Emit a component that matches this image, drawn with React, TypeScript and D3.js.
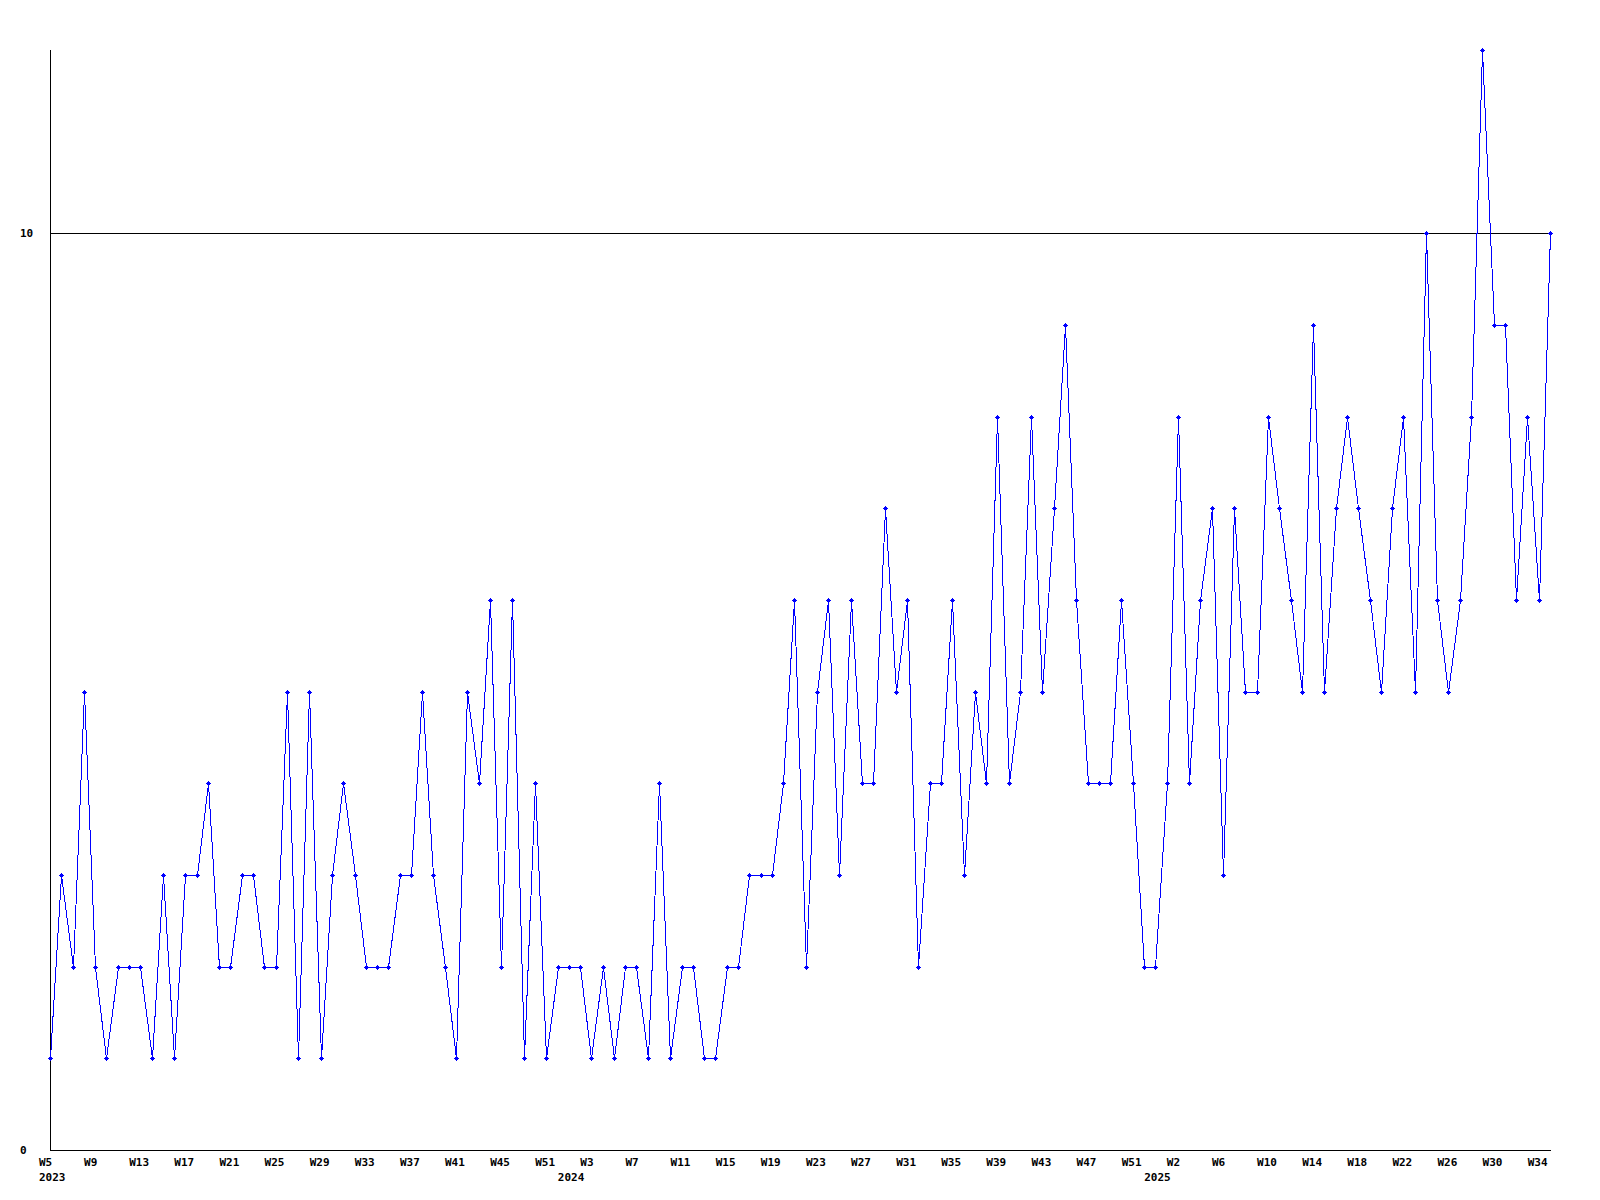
import React from "react";
import * as d3 from "d3";

// Weekly counts, 2023 W5 .. 2025 W35
const values: number[] = [
  1, 3, 2, 5, 2, 1, 2, 2, 2, 1,
  3, 1, 3, 3, 4, 2, 2, 3, 3, 2,
  2, 5, 1, 5, 1, 3, 4, 3, 2, 2,
  2, 3, 3, 5, 3, 2, 1, 5, 4, 6,
  2, 6, 1, 4, 1, 2, 2, 2, 1, 2,
  1, 2, 2, 1, 4, 1, 2, 2, 1, 1,
  2, 2, 3, 3, 3, 4, 6, 2, 5, 6,
  3, 6, 4, 4, 7, 5, 6, 2, 4, 4,
  6, 3, 5, 4, 8, 4, 5, 8, 5, 7,
  9, 6, 4, 4, 4, 6, 4, 2, 2, 4,
  8, 4, 6, 7, 3, 7, 5, 5, 8, 7,
  6, 5, 9, 5, 7, 8, 7, 6, 5, 7,
  8, 5, 10, 6, 5, 6, 8, 12, 9, 9,
  6, 8, 6, 10,
];

// Tick labels, one every 4th point
const tickStep = 4;
const tickLabels: string[] = [
  "W5", "W9", "W13", "W17", "W21", "W25", "W29", "W33", "W37", "W41", "W45", "W51",
  "W3", "W7", "W11", "W15", "W19", "W23", "W27", "W31", "W35", "W39", "W43", "W47", "W51",
  "W2", "W6", "W10", "W14", "W18", "W22", "W26", "W30", "W34",
];

// Years and the point index where each year starts
const yearNames: string[] = ["2023", "2024", "2025"];
const yearStartIndex: number[] = [0, 46, 98];

const yTicks: number[] = [0, 10];
const yMax = 12;

export default function App() {
  const x = d3.scaleLinear().domain([0, values.length - 1]).range([50, 1550]);
  const y = d3.scaleLinear().domain([0, yMax]).range([1150, 50]);

  const line = d3
    .line<number>()
    .x((_, i) => Math.round(x(i)) + 0.5)
    .y((d) => Math.round(y(d)) + 0.5);

  const font = {
    fontFamily: "'DejaVu Sans Mono', monospace",
    fontWeight: "bold" as const,
    fontSize: 11,
  };

  const axisY = Math.round(y(0)) + 0.5;
  const leftX = 50.5;
  const rightX = 1551;

  return (
    <svg
      width={1600}
      height={1200}
      style={{ position: "absolute", left: 0, top: 0, background: "#fff" }}
    >
      <rect x={0} y={0} width={1600} height={1200} fill="#fff" />
      {/* grid line at 10 */}
      {yTicks
        .filter((t) => t > 0)
        .map((t) => (
          <line
            key={"g" + t}
            x1={leftX}
            x2={rightX}
            y1={Math.round(y(t)) + 0.5}
            y2={Math.round(y(t)) + 0.5}
            stroke="#000"
            strokeWidth={1}
            shapeRendering="crispEdges"
          />
        ))}
      {/* axes */}
      <line x1={leftX} x2={leftX} y1={y(yMax)} y2={axisY} stroke="#000" strokeWidth={1} shapeRendering="crispEdges" />
      <line x1={leftX} x2={rightX} y1={axisY} y2={axisY} stroke="#000" strokeWidth={1} shapeRendering="crispEdges" />
      {/* y labels */}
      {yTicks.map((t) => (
        <text key={"yl" + t} x={20} y={Math.round(y(t)) + 4} {...font} fill="#000">
          {t}
        </text>
      ))}
      {/* x labels */}
      {tickLabels.map((lab, k) => (
        <text key={"xl" + k} x={x(k * tickStep) - 11} y={1166} {...font} fill="#000">
          {lab}
        </text>
      ))}
      {yearNames.map((yr, k) => (
        <text key={"yr" + yr} x={x(yearStartIndex[k]) - 11} y={1181} {...font} fill="#000">
          {yr}
        </text>
      ))}
      {/* data line */}
      <path d={line(values) || ""} fill="none" stroke="#0000ff" strokeWidth={1} shapeRendering="crispEdges" />
      {/* markers */}
      {values.map((v, i) => {
        const cx = Math.round(x(i));
        const cy = Math.round(y(v));
        return (
          <g key={"m" + i} fill="#0000ff" shapeRendering="crispEdges">
            <rect x={cx - 2} y={cy} width={5} height={1} />
            <rect x={cx} y={cy - 2} width={1} height={5} />
            <rect x={cx - 1} y={cy - 1} width={3} height={3} />
          </g>
        );
      })}
    </svg>
  );
}
